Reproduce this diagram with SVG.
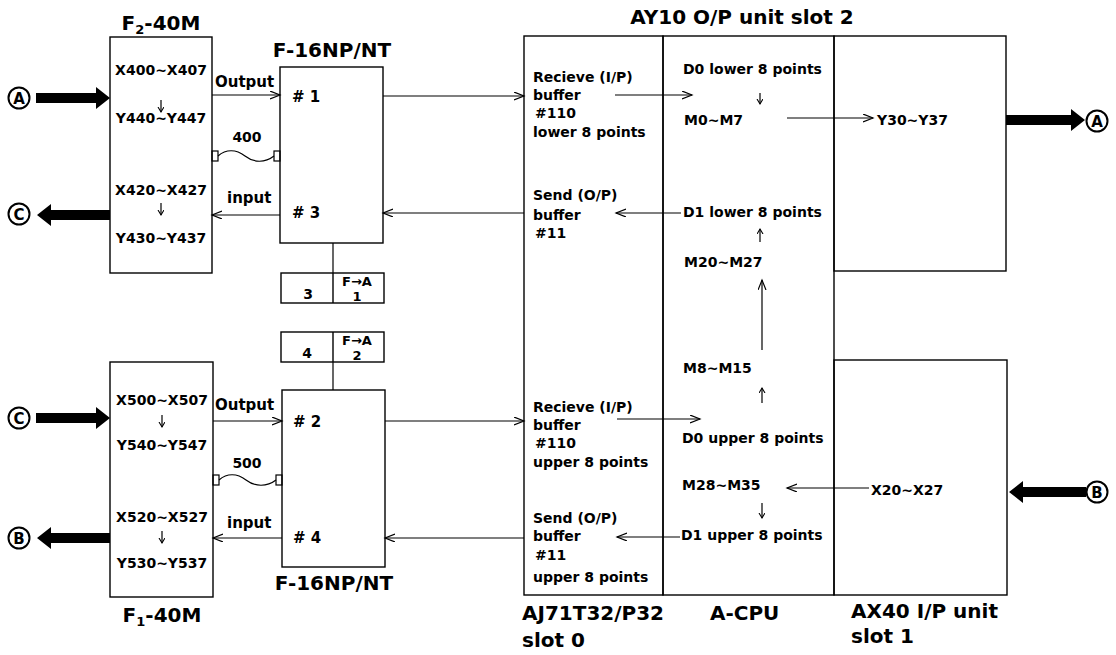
<svg xmlns="http://www.w3.org/2000/svg" width="1116" height="655" viewBox="0 0 1116 655">
<style>
text{font-family:"DejaVu Sans","Liberation Sans",sans-serif;font-weight:bold;fill:#000}
.t{font-size:14px}
.h{font-size:20px}
.l{font-size:15px}
.s{font-size:13px}
.box{fill:none;stroke:#000;stroke-width:1.4}
.c{fill:none;stroke:#000;stroke-width:1.2}
.thick{fill:#000;stroke:none}
.circ{fill:#fff;stroke:#000;stroke-width:2}
.cl{font-size:15px;text-anchor:middle}
.m{text-anchor:middle}
</style>
<defs>
<marker id="ah" markerUnits="userSpaceOnUse" markerWidth="12" markerHeight="10" refX="10" refY="4" orient="auto">
<path d="M0,0 L10,4 L0,8" fill="none" stroke="#000" stroke-width="1.2"/>
</marker>
<marker id="sh" markerUnits="userSpaceOnUse" markerWidth="8" markerHeight="8" refX="5" refY="3" orient="auto">
<path d="M0,0 L5,3 L0,6" fill="none" stroke="#000" stroke-width="1.1"/>
</marker>
</defs>

<text class="h m" x="742" y="24">AY10 O/P unit slot 2</text>

<g id="f2-40m">
<text class="h m" x="161" y="30">F<tspan font-size="13" dy="4">2</tspan><tspan dy="-4">-40M</tspan></text>
<rect class="box" x="110" y="37" width="102" height="236"/>
<text class="t m" x="161" y="75">X400~X407</text>
<text class="t m" x="161" y="123">Y440~Y447</text>
<text class="t m" x="161" y="195">X420~X427</text>
<text class="t m" x="161" y="243">Y430~Y437</text>
</g>

<g id="f1-40m">
<rect class="box" x="110" y="362" width="103" height="235"/>
<text class="t m" x="162" y="405">X500~X507</text>
<text class="t m" x="162" y="450">Y540~Y547</text>
<text class="t m" x="162" y="522">X520~X527</text>
<text class="t m" x="162" y="568">Y530~Y537</text>
<text class="h m" x="162" y="622">F<tspan font-size="13" dy="4">1</tspan><tspan dy="-4">-40M</tspan></text>
</g>

<g id="f16-upper">
<text class="h m" x="332" y="57">F-16NP/NT</text>
<rect class="box" x="280" y="67" width="103" height="176"/>
<text class="l" x="292" y="102"># 1</text>
<text class="l" x="292" y="218"># 3</text>
</g>

<g id="station-3">
<rect class="box" x="281" y="273" width="103" height="30"/>
<line class="box" x1="333" y1="273" x2="333" y2="303"/>
<text class="t m" x="308" y="299">3</text>
<text class="s m" x="357" y="286">F→A</text>
<text class="s m" x="357" y="301">1</text>
</g>

<g id="station-4">
<rect class="box" x="281" y="332" width="103" height="30"/>
<line class="box" x1="333" y1="332" x2="333" y2="362"/>
<text class="t m" x="307" y="358">4</text>
<text class="s m" x="357" y="345">F→A</text>
<text class="s m" x="357" y="360">2</text>
</g>

<g id="f16-lower">
<rect class="box" x="282" y="390" width="103" height="177"/>
<text class="l" x="293" y="427"># 2</text>
<text class="l" x="293" y="543"># 4</text>
<text class="h m" x="334" y="590">F-16NP/NT</text>
</g>

<g id="aj71">
<rect class="box" x="524" y="36" width="139" height="559"/>
<text class="t" x="533" y="82">Recieve (I/P)</text>
<text class="t" x="533" y="100">buffer</text>
<text class="t" x="535" y="118">#110</text>
<text class="t" x="533" y="137">lower 8 points</text>
<text class="t" x="533" y="200">Send (O/P)</text>
<text class="t" x="533" y="220">buffer</text>
<text class="t" x="535" y="238">#11</text>
<text class="t" x="533" y="412">Recieve (I/P)</text>
<text class="t" x="533" y="430">buffer</text>
<text class="t" x="535" y="448">#110</text>
<text class="t" x="533" y="467">upper 8 points</text>
<text class="t" x="533" y="523">Send (O/P)</text>
<text class="t" x="533" y="541">buffer</text>
<text class="t" x="535" y="560">#11</text>
<text class="t" x="533" y="582">upper 8 points</text>
<text class="h" x="522" y="620">AJ71T32/P32</text>
<text class="h" x="522" y="647">slot 0</text>
</g>

<g id="a-cpu">
<rect class="box" x="663" y="36" width="171" height="559"/>
<text class="t" x="683" y="74">D0 lower 8 points</text>
<text class="t" x="684" y="125">M0~M7</text>
<text class="t" x="683" y="217">D1 lower 8 points</text>
<text class="t" x="684" y="267">M20~M27</text>
<text class="t" x="683" y="373">M8~M15</text>
<text class="t" x="682" y="443">D0  upper 8 points</text>
<text class="t" x="682" y="490">M28~M35</text>
<text class="t" x="681" y="540">D1 upper 8 points</text>
<text class="h" x="710" y="620">A-CPU</text>
</g>

<g id="ay10">
<rect class="box" x="834" y="36" width="172" height="235"/>
<text class="t" x="877" y="125">Y30~Y37</text>
</g>

<g id="ax40">
<rect class="box" x="834" y="360" width="173" height="235"/>
<text class="t" x="871" y="495">X20~X27</text>
<text class="h" x="851" y="618">AX40 I/P unit</text>
<text class="h" x="851" y="643">slot 1</text>
</g>

<g id="terminals">
<circle class="circ" cx="19" cy="98" r="10.5"/><text class="cl" x="19" y="103.5">A</text>
<circle class="circ" cx="19" cy="214" r="10.5"/><text class="cl" x="19" y="219.5">C</text>
<circle class="circ" cx="19" cy="418" r="10.5"/><text class="cl" x="19" y="423.5">C</text>
<circle class="circ" cx="19" cy="538" r="10.5"/><text class="cl" x="19" y="543.5">B</text>
<circle class="circ" cx="1097" cy="121" r="10.5"/><text class="cl" x="1097" y="126.5">A</text>
<circle class="circ" cx="1097" cy="492" r="10.5"/><text class="cl" x="1097" y="497.5">B</text>
</g>

<g id="connectors">
<polygon class="thick" points="36,93 96,93 96,87 110,98 96,109 96,103 36,103"/>
<polygon class="thick" points="110,210 51,210 51,204 37,215 51,226 51,220 110,220"/>
<polygon class="thick" points="36,413 96,413 96,407 110,418 96,429 96,423 36,423"/>
<polygon class="thick" points="110,533 51,533 51,527 37,538 51,549 51,543 110,543"/>
<polygon class="thick" points="1006,115 1071,115 1071,109 1085,120 1071,131 1071,125 1006,125"/>
<polygon class="thick" points="1086,487 1023,487 1023,481 1009,492 1023,503 1023,497 1086,497"/>

<text class="l" x="215" y="87">Output</text>
<line class="c" x1="212" y1="95" x2="280" y2="95" marker-end="url(#ah)"/>
<text class="t m" x="247" y="142">400</text>
<rect class="c" x="212" y="151" width="6" height="10" fill="#fff"/>
<rect class="c" x="274" y="151" width="6" height="10" fill="#fff"/>
<path class="c" d="M218,156 C226,149 236,149 245,156 S265,163 274,156"/>
<text class="l" x="227" y="203">input</text>
<line class="c" x1="280" y1="215" x2="212" y2="215" marker-end="url(#ah)"/>

<text class="l" x="215" y="410">Output</text>
<line class="c" x1="213" y1="421" x2="282" y2="421" marker-end="url(#ah)"/>
<text class="t m" x="247" y="468">500</text>
<rect class="c" x="213" y="475" width="6" height="10" fill="#fff"/>
<rect class="c" x="276" y="475" width="6" height="10" fill="#fff"/>
<path class="c" d="M219,480 C227,473 237,473 246,480 S267,487 276,480"/>
<text class="l" x="227" y="528">input</text>
<line class="c" x1="282" y1="538" x2="213" y2="538" marker-end="url(#ah)"/>

<line class="c" x1="333" y1="243" x2="333" y2="273"/>
<line class="c" x1="333" y1="362" x2="333" y2="390"/>

<line class="c" x1="383" y1="96" x2="524" y2="96" marker-end="url(#ah)"/>
<line class="c" x1="524" y1="213" x2="383" y2="213" marker-end="url(#ah)"/>
<line class="c" x1="385" y1="421" x2="524" y2="421" marker-end="url(#ah)"/>
<line class="c" x1="524" y1="538" x2="385" y2="538" marker-end="url(#ah)"/>

<line class="c" x1="615" y1="95" x2="692" y2="95" marker-end="url(#ah)"/>
<line class="c" x1="681" y1="213" x2="616" y2="213" marker-end="url(#ah)"/>
<line class="c" x1="617" y1="419" x2="700" y2="419" marker-end="url(#ah)"/>
<line class="c" x1="680" y1="537" x2="617" y2="537" marker-end="url(#ah)"/>

<line class="c" x1="787" y1="118" x2="873" y2="118" marker-end="url(#ah)"/>
<line class="c" x1="869" y1="488" x2="787" y2="488" marker-end="url(#ah)"/>
<line class="c" x1="762" y1="350" x2="762" y2="280" marker-end="url(#ah)"/>

<line class="c" x1="161" y1="100" x2="161" y2="112" marker-end="url(#sh)"/>
<line class="c" x1="161" y1="203" x2="161" y2="215" marker-end="url(#sh)"/>
<line class="c" x1="162" y1="415" x2="162" y2="427" marker-end="url(#sh)"/>
<line class="c" x1="162" y1="531" x2="162" y2="543" marker-end="url(#sh)"/>
<line class="c" x1="760" y1="93" x2="760" y2="104" marker-end="url(#sh)"/>
<line class="c" x1="760" y1="242" x2="760" y2="229" marker-end="url(#sh)"/>
<line class="c" x1="762" y1="403" x2="762" y2="388" marker-end="url(#sh)"/>
<line class="c" x1="762" y1="503" x2="762" y2="518" marker-end="url(#sh)"/>
</g>
</svg>
